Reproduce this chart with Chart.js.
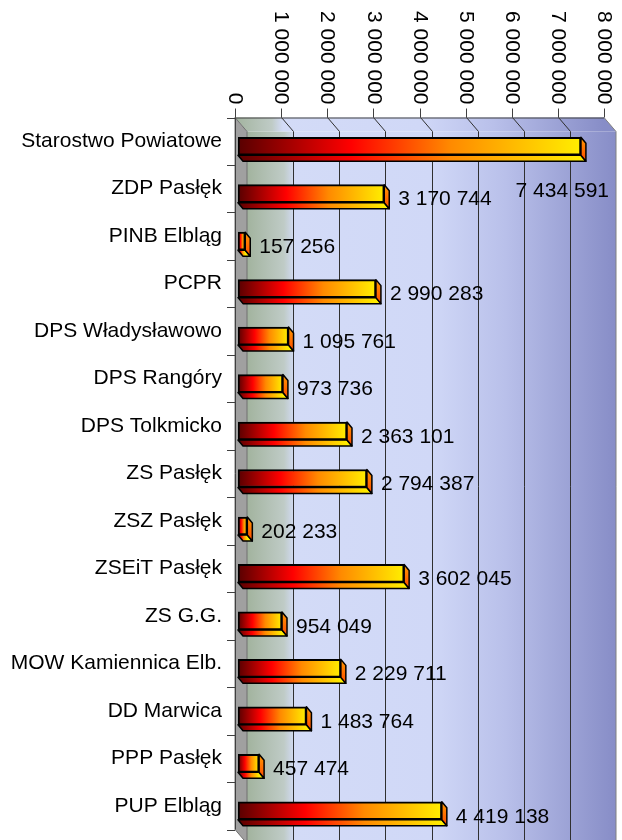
<!DOCTYPE html>
<html>
<head>
<meta charset="utf-8">
<title>Wydatki jednostek</title>
<script src="https://cdn.jsdelivr.net/npm/chart.js@4.4.0/dist/chart.umd.min.js"></script>
<style>
  html, body { margin: 0; padding: 0; background: #fff; }
  canvas { display: block; }
</style>
</head>
<body>
<canvas id="chart" width="622" height="840"></canvas>
<script>
const categories = [
  'Starostwo Powiatowe', 'ZDP Pasłęk', 'PINB Elbląg', 'PCPR', 'DPS Władysławowo',
  'DPS Rangóry', 'DPS Tolkmicko', 'ZS Pasłęk', 'ZSZ Pasłęk', 'ZSEiT Pasłęk',
  'ZS G.G.', 'MOW Kamiennica Elb.', 'DD Marwica', 'PPP Pasłęk', 'PUP Elbląg'
];
const amounts = [
  7434591, 3170744, 157256, 2990283, 1095761,
  973736, 2363101, 2794387, 202233, 3602045,
  954049, 2229711, 1483764, 457474, 4419138
];
const tickValues = [0, 1000000, 2000000, 3000000, 4000000, 5000000, 6000000, 7000000, 8000000];
const tickLabels = ['0', '1 000 000', '2 000 000', '3 000 000', '4 000 000',
  '5 000 000', '6 000 000', '7 000 000', '8 000 000'];

const FONT = '21px "Liberation Sans", Arial, sans-serif';
// bars stand half way into the 3D box, so the front plane is a bit up-left of the chart area
const BAR_DX = 3, BAR_DY = 5;
const WALL_DX = 12, WALL_DY = 14;
const SIDE_DX = 5, SIDE_DY = 6;

function fmt(v) {
  return String(v).replace(/\B(?=(\d{3})+(?!\d))/g, ' ');
}

function wallGradient(c, x0, x1) {
  const g = c.createLinearGradient(x0, 0, x1, 0);
  g.addColorStop(0, '#a2b39e');
  g.addColorStop(0.1, '#bfcbc6');
  g.addColorStop(0.13, '#d3dbf7');
  g.addColorStop(0.5, '#d0d8f7');
  g.addColorStop(0.7, '#b9c0ea');
  g.addColorStop(1, '#878dc7');
  return g;
}

function barGradient(c, x0, x1) {
  const g = c.createLinearGradient(x0, 0, Math.max(x1, x0 + 1), 0);
  g.addColorStop(0, '#580000');
  g.addColorStop(0.33, '#ff0000');
  g.addColorStop(0.62, '#ff8a00');
  g.addColorStop(1, '#ffee00');
  return g;
}

function poly(c, pts) {
  c.beginPath();
  c.moveTo(pts[0][0], pts[0][1]);
  for (let i = 1; i < pts.length; i++) c.lineTo(pts[i][0], pts[i][1]);
  c.closePath();
}

const box3d = {
  id: 'box3d',
  beforeDatasetsDraw(chart) {
    const c = chart.ctx, xs = chart.scales.x, a = chart.chartArea;
    const l = a.left - BAR_DX, t = a.top - BAR_DY, r = a.right - BAR_DX, b = a.bottom - BAR_DY;
    c.save();

    // back wall
    c.fillStyle = wallGradient(c, l + WALL_DX, r + WALL_DX);
    c.fillRect(l + WALL_DX, t + WALL_DY, r - l, b - t + 20);

    // top band
    c.fillStyle = wallGradient(c, l, r);
    poly(c, [[l, t], [r, t], [r + WALL_DX, t + WALL_DY], [l + WALL_DX, t + WALL_DY]]);
    c.fill();
    c.strokeStyle = '#808080';
    c.lineWidth = 1;
    c.beginPath();
    c.moveTo(r, t); c.lineTo(r + WALL_DX, t + WALL_DY); c.lineTo(r + WALL_DX, b + WALL_DY);
    c.stroke();

    // left wall
    c.fillStyle = '#a0a0a0';
    poly(c, [[l, t], [l + WALL_DX, t + WALL_DY], [l + WALL_DX, b + WALL_DY], [l, b]]);
    c.fill();
    c.strokeStyle = '#707070';
    c.stroke();

    // grid lines
    c.strokeStyle = '#303030';
    c.lineWidth = 1;
    tickValues.slice(1, -1).forEach(v => {
      const x = Math.round(xs.getPixelForValue(v) - BAR_DX) + 0.5;
      c.beginPath();
      c.moveTo(x, t);
      c.lineTo(x + WALL_DX, t + WALL_DY);
      c.lineTo(x + WALL_DX, b + WALL_DY);
      c.stroke();
    });

    // depth faces of the bars
    const meta = chart.getDatasetMeta(0);
    c.strokeStyle = '#000';
    c.lineWidth = 1.5;
    c.lineJoin = 'round';
    meta.data.forEach(bar => {
      const p = bar.getProps(['x', 'y', 'base', 'height'], true);
      const y0 = p.y - p.height / 2, y1 = p.y + p.height / 2;
      c.fillStyle = barGradient(c, p.base, p.x);
      poly(c, [[p.base, y1], [p.x, y1], [p.x + SIDE_DX, y1 + SIDE_DY], [p.base + SIDE_DX, y1 + SIDE_DY]]);
      c.fill(); c.stroke();
      const gs = c.createLinearGradient(0, y0, 0, y1 + SIDE_DY);
      gs.addColorStop(0, '#ff9a00');
      gs.addColorStop(1, '#ff4a00');
      c.fillStyle = gs;
      poly(c, [[p.x, y0], [p.x + SIDE_DX, y0 + SIDE_DY], [p.x + SIDE_DX, y1 + SIDE_DY], [p.x, y1]]);
      c.fill(); c.stroke();
    });
    c.restore();
  },
  afterDatasetsDraw(chart) {
    const c = chart.ctx, xs = chart.scales.x, ys = chart.scales.y, a = chart.chartArea;
    const l = a.left - BAR_DX, t = a.top - BAR_DY, r = a.right - BAR_DX, b = a.bottom - BAR_DY;
    c.save();

    // axes
    c.strokeStyle = '#404040';
    c.lineWidth = 1;
    c.beginPath();
    c.moveTo(l, t + 0.5); c.lineTo(r, t + 0.5);
    c.moveTo(l + 0.5, t); c.lineTo(l + 0.5, b);
    tickValues.forEach(v => {
      const x = Math.round(xs.getPixelForValue(v) - BAR_DX) + 0.5;
      c.moveTo(x, t - 9); c.lineTo(x, t);
    });
    for (let i = 0; i <= categories.length; i++) {
      const y = Math.round(t + i * (b - t) / categories.length) + 0.5;
      c.moveTo(l - 8, y); c.lineTo(l, y);
    }
    c.stroke();

    c.fillStyle = '#000';
    c.font = FONT;

    // value axis labels, turned clockwise
    c.textAlign = 'right';
    c.textBaseline = 'middle';
    tickValues.forEach((v, i) => {
      const x = xs.getPixelForValue(v) - BAR_DX;
      c.save();
      c.translate(x, t - 13);
      c.rotate(Math.PI / 2);
      c.fillText(tickLabels[i], 0, 0);
      c.restore();
    });

    // category labels
    categories.forEach((name, i) => {
      c.fillText(name, l - 13, ys.getPixelForValue(i) - BAR_DY);
    });

    // data labels, a little right of and below the bar end
    c.textAlign = 'left';
    const meta = chart.getDatasetMeta(0);
    meta.data.forEach((bar, i) => {
      const p = bar.getProps(['x', 'y'], true);
      const txt = fmt(amounts[i]);
      const w = c.measureText(txt).width;
      let lx = p.x + 14, ly = p.y + 6;
      if (lx + w > chart.width - 12) {
        lx = chart.width - 13 - w;
        ly = p.y + 45;
      }
      c.fillText(txt, lx, ly);
    });
    c.restore();
  }
};

new Chart(document.getElementById('chart'), {
  type: 'bar',
  data: {
    labels: categories,
    datasets: [{
      data: amounts,
      backgroundColor: ctx => {
        const chart = ctx.chart;
        if (!chart.chartArea) return '#ff0000';
        const xs = chart.scales.x;
        return barGradient(chart.ctx, xs.getPixelForValue(0), xs.getPixelForValue(ctx.raw));
      },
      borderColor: '#000',
      borderWidth: 2,
      borderSkipped: false,
      barThickness: 18
    }]
  },
  options: {
    indexAxis: 'y',
    responsive: false,
    animation: false,
    devicePixelRatio: 1,
    layout: { padding: { left: 238, top: 122.5, right: 15, bottom: 5.5 } },
    plugins: {
      legend: { display: false },
      tooltip: { enabled: false }
    },
    scales: {
      x: { display: false, min: 0, max: 8000000 },
      y: { display: false }
    }
  },
  plugins: [box3d]
});
</script>
</body>
</html>
